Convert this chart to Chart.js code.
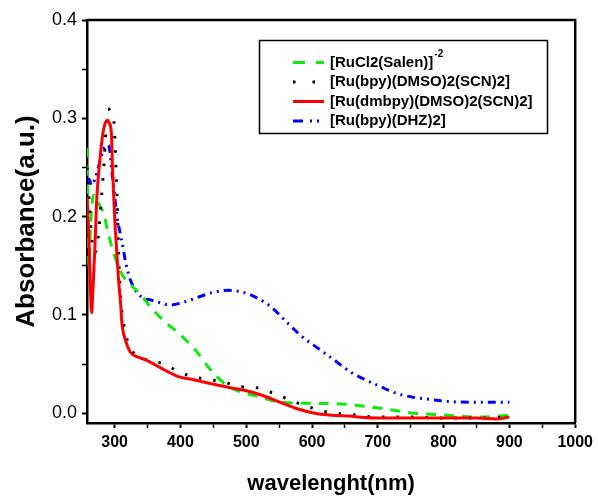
<!DOCTYPE html>
<html>
<head>
<meta charset="utf-8">
<title>UV-Vis absorbance</title>
<script src="https://cdn.jsdelivr.net/npm/chart.js@4.4.1/dist/chart.umd.min.js"></script>
<style>
  html, body { margin: 0; padding: 0; background: #fff; }
  #wrap { width: 598px; height: 497px; }
</style>
</head>
<body>
<div id="wrap"><canvas id="uv-chart" width="598" height="497"></canvas></div>
<script>
// Series names (legend), superscripts drawn separately
const seriesNames = ['[RuCl2(Salen)]', '[Ru(bpy)(DMSO)2(SCN)2]', '[Ru(dmbpy)(DMSO)2(SCN)2]', '[Ru(bpy)(DHZ)2]'];
const seriesSup = ['-2', '', '', ''];

// Axis range and tick labels
const xMin = 258, xMax = 1000;
const yMin = -0.01, yMax = 0.4;
const xTickLabels = [300, 400, 500, 600, 700, 800, 900, 1000];
const yTickLabels = [0.0, 0.1, 0.2, 0.3, 0.4];

// [RuCl2(Salen)]-2
const salenX = [258, 259.5, 261, 263, 266, 269, 273, 278, 283, 291, 301, 308, 322, 338, 352, 378, 398, 423, 446, 469, 490, 518, 553, 604, 654, 680, 704, 755, 805, 855, 900];
const salenY = [0.27, 0.2, 0.15, 0.185, 0.215, 0.222, 0.218, 0.21, 0.204, 0.181, 0.158, 0.145, 0.132, 0.122, 0.11, 0.092, 0.081, 0.064, 0.044, 0.029, 0.022, 0.017, 0.011, 0.01, 0.009, 0.007, 0.005, 0.0, -0.002, -0.004, -0.002];

// [Ru(bpy)(DMSO)2(SCN)2]
const bpyDmsoX = [258, 262, 265, 269, 274, 280, 284, 287, 290, 295, 299, 300.5, 302, 303.5, 306, 309, 312, 318, 328, 350, 375, 398, 420, 446, 469, 491, 515, 538, 561, 583, 607, 631, 654, 699, 750, 800, 850, 900];
const bpyDmsoY = [0.25, 0.21, 0.18, 0.163, 0.173, 0.22, 0.255, 0.29, 0.31, 0.305, 0.297, 0.276, 0.25, 0.224, 0.163, 0.118, 0.098, 0.077, 0.062, 0.054, 0.05, 0.042, 0.037, 0.034, 0.031, 0.027, 0.026, 0.021, 0.015, 0.009, 0.004, 0.0, -0.001, -0.004, -0.004, -0.005, -0.005, -0.004];

// [Ru(dmbpy)(DMSO)2(SCN)2]
const dmbpyX = [258, 261, 263, 265, 267, 270, 273, 277, 283, 289, 292, 295, 297, 300, 303, 306, 309, 311, 316.5, 324, 336, 348, 370, 398, 420, 447, 475, 499, 525, 548, 575, 604, 630, 654, 703, 750, 800, 850, 880, 900];
const dmbpyY = [0.22, 0.175, 0.13, 0.102, 0.125, 0.169, 0.22, 0.254, 0.288, 0.298, 0.295, 0.285, 0.245, 0.2, 0.166, 0.135, 0.112, 0.092, 0.074, 0.062, 0.057, 0.054, 0.046, 0.037, 0.034, 0.030, 0.026, 0.023, 0.018, 0.012, 0.005, 0.0, -0.002, -0.003, -0.005, -0.005, -0.005, -0.005, -0.006, -0.004];

// [Ru(bpy)(DHZ)2]
const dhzX = [258, 261, 265, 270, 276, 283, 288, 292, 295, 298, 303, 309, 313.5, 316.5, 326, 341, 356, 371, 383, 400, 423, 450, 473, 495, 514, 538, 561, 583, 609, 634, 658, 681, 704, 729, 755, 779, 805, 855, 900];
const dhzY = [0.237, 0.238, 0.232, 0.238, 0.252, 0.268, 0.273, 0.27, 0.25, 0.234, 0.203, 0.181, 0.166, 0.154, 0.132, 0.118, 0.115, 0.112, 0.11, 0.112, 0.117, 0.123, 0.125, 0.123, 0.118, 0.108, 0.093, 0.079, 0.066, 0.054, 0.042, 0.034, 0.027, 0.02, 0.016, 0.014, 0.012, 0.011, 0.011];

// Line styles
const seriesColors = ['#10e810', '#000000', '#ff0000', '#0000ff'];
const seriesDash = [[10, 8], [2.5, 12], [], [8, 5, 2, 5, 2, 5]];
const legendDash = [[12, 11], [2.5, 17], [], [10, 7, 2, 5, 2, 20]];
const FONT = "'Liberation Sans', Arial, sans-serif";

function toPoints(xs, ys) {
    return xs.map((x, i) => ({ x: x, y: ys[i] }));
}

function isMultiple(v, step) {
    const r = v / step;
    return Math.abs(r - Math.round(r)) < 1e-6;
}

// Top and right frame lines
const framePlugin = {
    id: 'frame',
    afterDraw(chart) {
        const { left, right, top, bottom } = chart.chartArea;
        const ctx = chart.ctx;
        ctx.save();
        ctx.strokeStyle = '#000';
        ctx.lineWidth = 2.5;
        ctx.beginPath();
        ctx.moveTo(left, top);
        ctx.lineTo(right, top);
        ctx.lineTo(right, bottom);
        ctx.stroke();
        ctx.restore();
    }
};

// Boxed legend inside the plot
const legendPlugin = {
    id: 'boxLegend',
    afterDraw(chart) {
        const ctx = chart.ctx;
        const rows = [62.5, 82, 101.5, 121];
        ctx.save();
        ctx.fillStyle = '#fff';
        ctx.fillRect(259, 40, 288, 93);
        ctx.strokeStyle = '#000';
        ctx.lineWidth = 1.5;
        ctx.strokeRect(259.5, 40.5, 288, 93);
        seriesNames.forEach(function(name, i) {
            const y = rows[i];
            ctx.strokeStyle = seriesColors[i];
            ctx.lineWidth = 3;
            ctx.setLineDash(legendDash[i]);
            ctx.beginPath();
            ctx.moveTo(293, y);
            ctx.lineTo(324, y);
            ctx.stroke();
            ctx.setLineDash([]);
            ctx.fillStyle = '#000';
            ctx.font = 'bold 15px ' + FONT;
            ctx.textBaseline = 'middle';
            ctx.textAlign = 'left';
            ctx.fillText(name, 330, y);
            if (seriesSup[i]) {
                const w = ctx.measureText(name).width;
                ctx.font = 'bold 10px ' + FONT;
                ctx.fillText(seriesSup[i], 330 + w + 1, y - 8);
            }
        });
        ctx.restore();
    }
};

function makeDataset(i, xs, ys) {
    return {
        label: seriesNames[i],
        data: toPoints(xs, ys),
        borderColor: seriesColors[i],
        borderDash: seriesDash[i],
        borderWidth: 3,
        pointRadius: 0,
        fill: false,
        cubicInterpolationMode: 'monotone'
    };
}

const ctx = document.getElementById('uv-chart').getContext('2d');
const uvChart = new Chart(ctx, {
    type: 'line',
    data: {
        datasets: [
            makeDataset(2, dmbpyX, dmbpyY),
            makeDataset(1, bpyDmsoX, bpyDmsoY),
            makeDataset(0, salenX, salenY),
            makeDataset(3, dhzX, dhzY)
        ]
    },
    options: {
        responsive: false,
        animation: false,
        devicePixelRatio: 1,
        layout: { padding: { left: 0, top: 20, right: 19, bottom: 0 } },
        plugins: {
            legend: { display: false },
            tooltip: { enabled: false }
        },
        scales: {
            x: {
                type: 'linear',
                min: xMin,
                max: xMax,
                afterFit: function(scale) { scale.height = 74; },
                border: { display: true, color: '#000', width: 2.5 },
                grid: {
                    drawOnChartArea: false,
                    drawTicks: true,
                    tickLength: 5,
                    tickColor: '#000',
                    tickWidth: c => (c.tick && isMultiple(c.tick.value, 100) ? 2 : 1.5)
                },
                ticks: {
                    stepSize: 50,
                    includeBounds: false,
                    autoSkip: false,
                    maxRotation: 0,
                    padding: 5,
                    color: '#000',
                    font: { family: FONT, size: 16, weight: 'bold' },
                    callback: v => (xTickLabels.includes(v) ? String(v) : '')
                },
                title: {
                    display: true,
                    text: 'wavelenght(nm)',
                    color: '#000',
                    font: { family: FONT, size: 22, weight: 'bold' },
                    padding: { top: 0, bottom: 0 }
                }
            },
            y: {
                type: 'linear',
                min: yMin,
                max: yMax,
                afterFit: function(scale) { scale.width = 87; },
                border: { display: true, color: '#000', width: 2.5 },
                grid: {
                    drawOnChartArea: false,
                    drawTicks: true,
                    tickLength: 5,
                    tickColor: '#000',
                    tickWidth: c => (c.tick && isMultiple(c.tick.value, 0.1) ? 2 : 1.5)
                },
                ticks: {
                    stepSize: 0.05,
                    includeBounds: false,
                    autoSkip: false,
                    padding: 5,
                    color: '#000',
                    font: { family: FONT, size: 18 },
                    callback: function(v) {
                        const hit = yTickLabels.find(t => Math.abs(t - v) < 1e-6);
                        return hit !== undefined ? hit.toFixed(1) : '';
                    }
                },
                title: {
                    display: true,
                    text: 'Absorbance(a.u.)',
                    color: '#000',
                    font: { family: FONT, size: 26, weight: 'bold' },
                    padding: { top: 11, bottom: 0 }
                }
            }
        }
    },
    plugins: [framePlugin, legendPlugin]
});
</script>
</body>
</html>
